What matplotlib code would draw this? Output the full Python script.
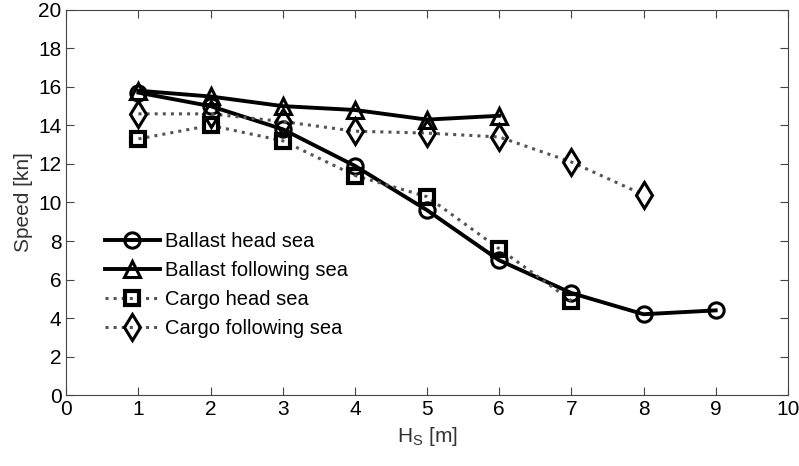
import matplotlib.pyplot as plt

plt.rcParams['font.family'] = ['Liberation Sans', 'DejaVu Sans']

# Daten
hs_bh = [1, 2, 3, 4, 5, 6, 7, 8, 9]
ballast_head = [15.7, 15.0, 13.8, 11.9, 9.6, 7.0, 5.3, 4.2, 4.4]

hs_bf = [1, 2, 3, 4, 5, 6]
ballast_follow = [15.8, 15.5, 15.0, 14.8, 14.3, 14.5]

hs_ch = [1, 2, 3, 4, 5, 6, 7]
cargo_head = [13.3, 14.0, 13.2, 11.4, 10.3, 7.6, 4.9]

hs_cf = [1, 2, 3, 4, 5, 6, 7, 8]
cargo_follow = [14.6, 14.6, 14.2, 13.7, 13.6, 13.4, 12.1, 10.4]

fig = plt.figure(figsize=(7.99, 4.66), dpi=100)
ax = fig.add_axes([0.083, 0.152, 0.903, 0.827])

mk = dict(markersize=11, markeredgewidth=2.2, markerfacecolor='none', markeredgecolor='black')
ax.plot(hs_bh, ballast_head, '-', color='black', lw=2.8, marker='o', label='Ballast head sea', **mk)
ax.plot(hs_bf, ballast_follow, '-', color='black', lw=2.8, marker='^', label='Ballast following sea', **mk)
ax.plot(hs_ch, cargo_head, ':', color='#555555', lw=2.2, marker='s', label='Cargo head sea',
        markersize=10, markeredgewidth=3, markerfacecolor='none', markeredgecolor='black')
ax.plot(hs_cf, cargo_follow, ':', color='#555555', lw=2.2, marker='d', label='Cargo following sea',
        markersize=13, markeredgewidth=2.2, markerfacecolor='none', markeredgecolor='black')

# Achsen
ax.set_xlim(0, 10)
ax.set_ylim(0, 20)
ax.set_xticks(range(0, 11))
ax.set_yticks(range(0, 21, 2))
ax.tick_params(direction='in', top=True, right=True, labelsize=15, length=6, color='#444444')
for s in ax.spines.values():
    s.set_color('#444444')

ax.set_xlabel(r'H$_\mathregular{S}$ [m]', fontsize=15, color='#333333')
ax.set_ylabel('Speed [kn]', fontsize=15, color='#333333')

ax.legend(loc='lower left', bbox_to_anchor=(0.054, 0.148), frameon=False, fontsize=14.5,
          handlelength=2.7, labelspacing=0.5, handletextpad=0.25, borderaxespad=0,
          borderpad=0)

plt.savefig('out.png', dpi=100)
